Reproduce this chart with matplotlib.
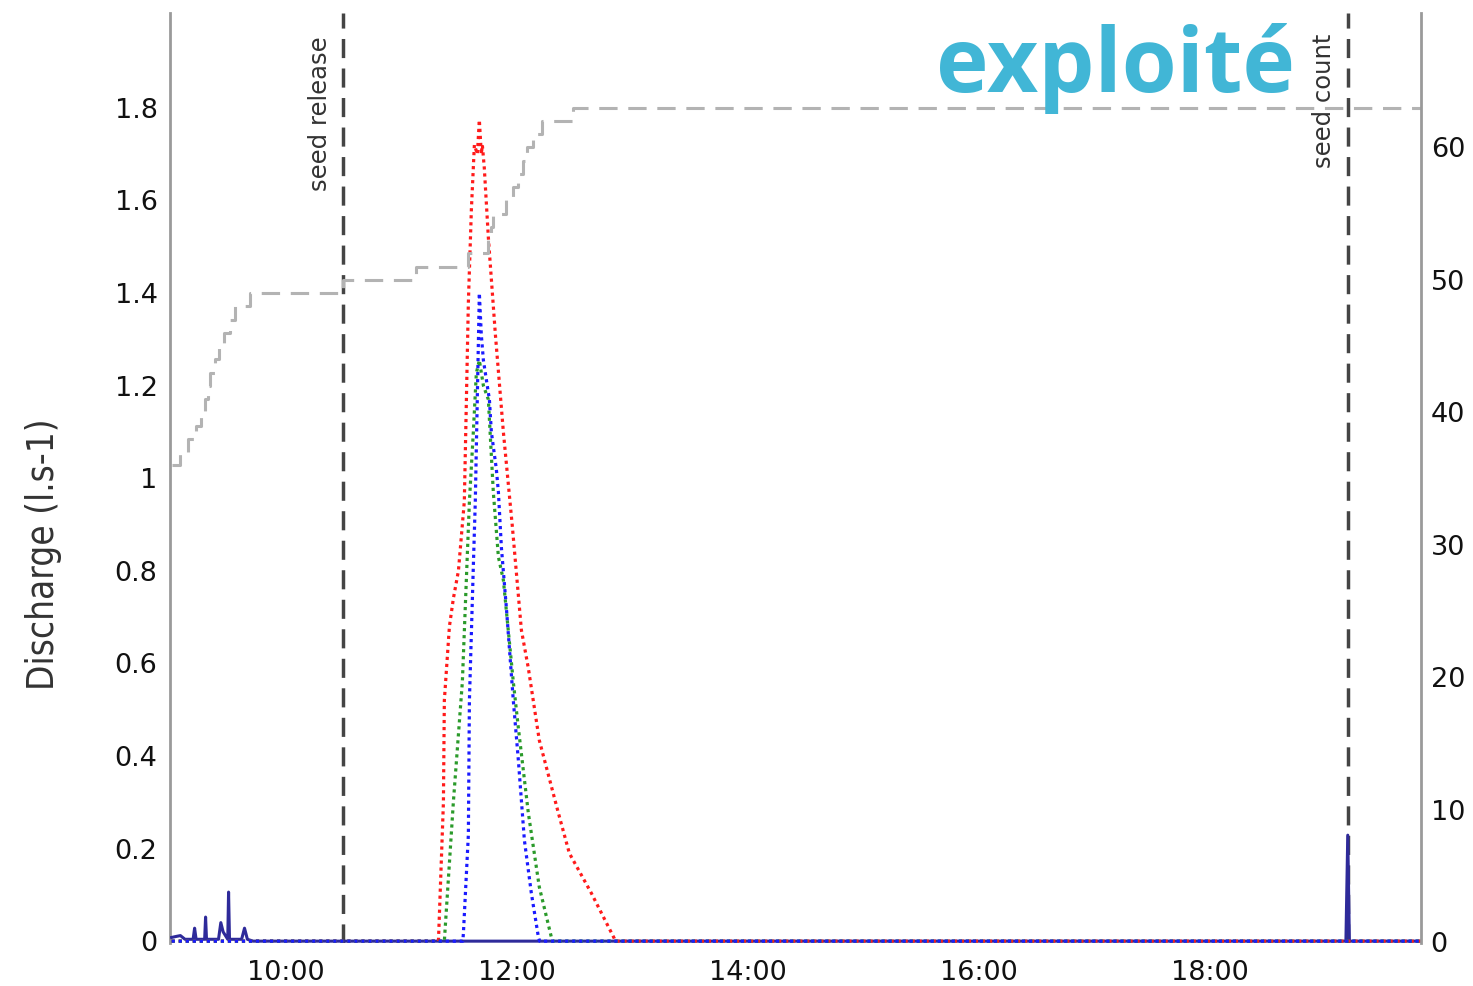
import matplotlib
matplotlib.use("Agg")
import matplotlib.pyplot as plt

# ---------------- data ----------------
# time in decimal hours
red_t = [9.014, 11.324, 11.367, 11.375, 11.419, 11.453, 11.497, 11.548, 11.566, 11.583, 11.609,
         11.635, 11.661, 11.678, 11.695, 11.704, 11.721, 11.756, 11.782, 11.817, 11.886, 11.964,
         12.042, 12.102, 12.197, 12.362, 12.457, 12.647, 12.846, 12.855, 19.83]
red_v = [0.0, 0.0, 0.30, 0.52, 0.68, 0.74, 0.80, 0.95, 1.17, 1.38, 1.58,
         1.72, 1.70, 1.774, 1.70, 1.72, 1.67, 1.52, 1.43, 1.31, 1.10, 0.895,
         0.672, 0.59, 0.434, 0.277, 0.19, 0.104, 0.006, 0.0, 0.0]

green_t = [9.014, 11.375, 11.453, 11.531, 11.592, 11.626, 11.652, 11.678, 11.713, 11.756,
           11.799, 11.843, 11.886, 11.972, 12.016, 12.102, 12.197, 12.301, 12.31, 19.83]
green_v = [0.0, 0.0, 0.30, 0.56, 0.95, 1.10, 1.227, 1.255, 1.20, 1.17,
           0.97, 0.83, 0.78, 0.56, 0.46, 0.277, 0.117, 0.009, 0.0, 0.0]

blue_t = [9.014, 11.535, 11.540, 11.583, 11.592, 11.626, 11.643, 11.678, 11.695, 11.713, 11.765,
          11.782, 11.825, 11.843, 11.869, 11.912, 11.972, 12.016, 12.068, 12.128, 12.189,
          12.20, 19.83]
blue_v = [0.0, 0.0, 0.017, 0.23, 0.52, 0.81, 0.95, 1.40, 1.31, 1.255, 1.17,
          1.10, 1.02, 0.97, 0.85, 0.72, 0.52, 0.39, 0.218, 0.104, 0.009,
          0.0, 0.0]

navy_t = [9.014, 9.05, 9.09, 9.13, 9.20, 9.213, 9.226, 9.30, 9.308, 9.316, 9.42, 9.44, 9.46,
          9.50, 9.507, 9.515, 9.62, 9.645, 9.67, 9.72, 19.18, 19.196, 19.21, 19.83]
navy_v = [0.008, 0.01, 0.012, 0.004, 0.004, 0.028, 0.004, 0.004, 0.052, 0.004, 0.004, 0.04, 0.02,
          0.004, 0.106, 0.004, 0.004, 0.028, 0.004, 0.0, 0.0, 0.229, 0.0, 0.0]

# cumulative seed count (right axis)
count_t = [9.014, 9.083, 9.152, 9.221, 9.265, 9.30, 9.325, 9.343, 9.386, 9.42, 9.464, 9.516,
           9.567, 9.69, 10.50, 11.133, 11.583, 11.756, 11.78, 11.80, 11.91, 11.97, 12.016,
           12.06, 12.093, 12.145, 12.22, 12.49, 19.83]
count_v = [36, 37, 38, 39, 40, 41, 42, 43, 44, 45, 46, 47,
           48, 49, 50, 51, 52, 53, 54, 55, 56, 57, 58,
           59, 60, 61, 62, 63, 63]

seed_release_t = 10.50
seed_count_t = 19.196

x_ticks = [10, 12, 14, 16, 18]
x_tick_labels = ["10:00", "12:00", "14:00", "16:00", "18:00"]
left_ticks = [0, 0.2, 0.4, 0.6, 0.8, 1.0, 1.2, 1.4, 1.6, 1.8]
left_tick_labels = ["0", "0.2", "0.4", "0.6", "0.8", "1", "1.2", "1.4", "1.6", "1.8"]
right_ticks = [0, 10, 20, 30, 40, 50, 60]

# ---------------- figure ----------------
fig = plt.figure(figsize=(14.73, 9.86), dpi=100)
ax = fig.add_axes([170 / 1473, 1 - 943 / 986, (1421 - 170) / 1473, (943 - 13) / 986])
ax2 = ax.twinx()

ax.set_xlim(9.0, 19.83)
ax.set_ylim(-0.004, 2.005)
ax2.set_ylim(-0.05, 70.15)

# seed count step line on the right axis
ax2.plot(count_t, count_v, drawstyle="steps-post", color="#b3b3b3", lw=2.2,
         dashes=(6, 3.5), zorder=1)

# discharge curves
dot = (0, (1, 1.2))
ax.plot(navy_t, navy_v, color="#2e2a9a", lw=2.2, zorder=3)
ax.plot(red_t, red_v, color="#ff1a1a", lw=2.3, linestyle=dot, zorder=4)
ax.plot(green_t, green_v, color="#2a9a2a", lw=2.3, linestyle=dot, zorder=5)
ax.plot(blue_t, blue_v, color="#1a1aff", lw=2.3, linestyle=dot, zorder=6)

# vertical event lines
for t in (seed_release_t, seed_count_t):
    ax.axvline(t, color="#444444", lw=2.5, dashes=(5.5, 3), zorder=2)

ax.text(seed_release_t - 0.1, 1.955, "seed release", rotation=90, ha="right", va="top",
        fontsize=17.5, color="#333333")
ax.text(seed_count_t - 0.1, 1.96, "seed count", rotation=90, ha="right", va="top",
        fontsize=17.5, color="#333333")

# axes styling
for a in (ax, ax2):
    for s in ("top", "bottom"):
        a.spines[s].set_visible(False)
    a.spines["left"].set_color("#9a9a9a")
    a.spines["right"].set_color("#9a9a9a")
    a.spines["left"].set_linewidth(2)
    a.spines["right"].set_linewidth(2)
ax.spines["right"].set_visible(False)
ax2.spines["left"].set_visible(False)

ax.set_xticks(x_ticks)
ax.set_xticklabels(x_tick_labels)
ax.set_yticks(left_ticks)
ax.set_yticklabels(left_tick_labels)
ax2.set_yticks(right_ticks)
ax.tick_params(axis="both", length=0, labelsize=19.5, colors="#111111")
ax.tick_params(axis="y", pad=9)
ax.tick_params(axis="x", pad=12)
ax2.tick_params(axis="y", length=0, labelsize=19.5, colors="#111111", pad=7)

ax.set_ylabel("Discharge (l.s-1)", fontsize=26.5, color="#333333",
              family="DejaVu Sans", fontstretch="condensed")
ax.yaxis.set_label_coords(-0.086, 0.418)

fig.text(1295 / 1473, 1 - 92 / 986, "exploité", ha="right", va="baseline",
         fontsize=64, fontweight="bold", color="#41b6d6",
         family=["Open Sans", "DejaVu Sans"])

fig.savefig("out.png", dpi=100)
